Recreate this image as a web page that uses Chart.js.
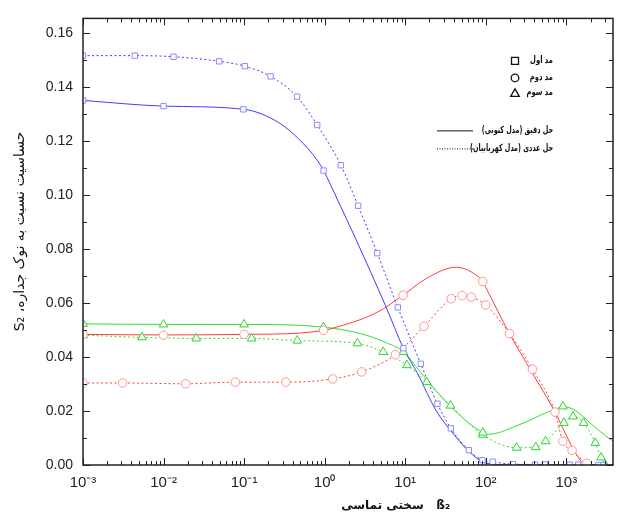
<!DOCTYPE html>
<html>
<head>
<meta charset="utf-8">
<script src="https://cdn.jsdelivr.net/npm/chart.js@4.4.1/dist/chart.umd.min.js"></script>
<style>
html, body { margin: 0; padding: 0; background: #fff; }
#wrap { position: relative; width: 619px; height: 515px; }
</style>
</head>
<body>
<div id="wrap"><canvas id="chart" dir="rtl" width="619" height="515"></canvas></div>
<script>
// mode 1 (blue)
const mode1Exact = [[0.001,0.1351],[0.01,0.1330],[0.1,0.1318],[0.265,0.1270],[0.47,0.1210],[0.82,0.1127],[0.97,0.1091],[1.45,0.0982],[2.5,0.0830],[5.7,0.0590],[9.5,0.0433],[14,0.0343],[24.5,0.0199],[40,0.0114],[63,0.0048],[100,0.0007],[200,0.0001],[3800,0]];
const mode1ExactMarks = [[0.001,0.1351],[0.01,0.1330],[0.098,0.1318],[0.97,0.1091],[9.5,0.0433],[410,0.0001],[1100,0.0001],[2900,0]];
const mode1Numer = [[0.001,0.1517],[0.0044,0.1517],[0.0133,0.1513],[0.049,0.1496],[0.102,0.1478],[0.213,0.1440],[0.454,0.1365],[0.807,0.1260],[1.59,0.1111],[2.6,0.0961],[4.5,0.0785],[8.1,0.0584],[15.6,0.0375],[25.1,0.0227],[36.9,0.0136],[61.7,0.0055],[91,0.0018],[122,0.0012],[218,0.0003],[540,0.0002],[1400,0.0001],[2500,0],[3800,0]];
const mode1NumerMarks = [[0.001,0.1517],[0.0044,0.1517],[0.0133,0.1513],[0.049,0.1496],[0.102,0.1478],[0.213,0.1440],[0.454,0.1365],[0.807,0.1260],[1.59,0.1111],[2.6,0.0961],[4.5,0.0785],[8.1,0.0584],[15.6,0.0375],[25.1,0.0227],[36.9,0.0136],[61.7,0.0055],[91,0.0018],[122,0.0012],[218,0.0003],[540,0.0002],[1400,0.0001],[2500,0]];

// mode 2 (red)
const mode2Exact = [[0.001,0.0484],[0.01,0.0482],[0.1,0.0484],[0.5,0.0489],[0.97,0.0499],[1.2,0.0505],[4.5,0.0566],[9.4,0.0629],[18.5,0.0692],[43,0.0733],[76,0.0704],[92,0.0680],[101,0.0656],[197,0.0487],[380,0.0340],[724,0.0196],[1000,0.0110],[1300,0.0045],[1750,0],[3800,0]];
const mode2ExactMarks = [[0.001,0.0484],[0.01,0.0481],[0.1,0.0484],[0.97,0.0499],[9.4,0.0629],[92,0.0680]];
const mode2Numer = [[0.001,0.0304],[0.0031,0.0304],[0.0188,0.0301],[0.078,0.0307],[0.33,0.0307],[1.26,0.0319],[2.88,0.0345],[7.55,0.0409],[17.1,0.0514],[37.3,0.0616],[51,0.0628],[66,0.0622],[99.6,0.0593],[197,0.0487],[380,0.0355],[724,0.0196],[906,0.0088],[1180,0.0054],[1800,0.0006],[2200,0]];
const mode2NumerMarks = [[0.001,0.0304],[0.0031,0.0304],[0.0188,0.0301],[0.078,0.0307],[0.33,0.0307],[1.26,0.0319],[2.88,0.0345],[7.55,0.0409],[17.1,0.0514],[37.3,0.0616],[51,0.0628],[66,0.0622],[99.6,0.0593],[197,0.0487],[380,0.0355],[724,0.0196],[906,0.0088],[1180,0.0054],[1800,0.0006]];

// mode 3 (green)
const mode3Exact = [[0.001,0.0523],[0.01,0.0521],[0.1,0.0521],[0.97,0.0511],[2.8,0.0487],[5.4,0.0457],[9.5,0.0419],[16.8,0.0331],[36.6,0.0217],[92,0.0120],[110,0.0114],[237,0.0144],[700,0.0205],[950,0.0216],[1300,0.0201],[2080,0.0150],[3490,0.0096],[3800,0.0090]];
const mode3ExactMarks = [[0.001,0.0523],[0.01,0.0521],[0.1,0.0521],[0.97,0.0511],[9.5,0.0419],[92,0.0120],[906,0.0217]];
const mode3Numer = [[0.001,0.0481],[0.0054,0.0473],[0.0255,0.0469],[0.124,0.0469],[0.457,0.0461],[2.55,0.0451],[5.33,0.0419],[10.5,0.0370],[18.5,0.0307],[36.6,0.0220],[92,0.0112],[242,0.0064],[417,0.0066],[554,0.0088],[933,0.0156],[1210,0.0180],[1640,0.0156],[2290,0.0082],[2700,0.0028],[3000,0.0003]];
const mode3NumerMarks = mode3Numer;

const modeNames = ['مد اول', 'مد دوم', 'مد سوم'];
const lineNames = ['حل دقیق (مدل کنونی)', 'حل عددی (مدل کهربابیان)'];
const xTitle = 'ß₂   سختی تماسی';
const yTitle = 'حساسیت نسبت به نوک جداره، S₂';

const BLUE = '#3c3cff', BLUE_M = '#8c8cff';
const RED = '#ff3c3c', RED_M = '#ff9494';
const GREEN = '#2ee02e', GREEN_M = '#30d230';

const toPts = a => a.map(p => ({ x: p[0], y: p[1] }));

function lineSet(data, color, dotted) {
    return {
        type: 'line', data: toPts(data), borderColor: color, borderWidth: 1,
        borderDash: dotted ? [2, 2.5] : [], pointRadius: 0, fill: false,
        cubicInterpolationMode: 'monotone', order: 2
    };
}

function markSet(data, color, style, r) {
    return {
        type: 'scatter', data: toPts(data), showLine: false,
        borderColor: color, backgroundColor: '#fff', pointStyle: style,
        pointRadius: r, pointBorderWidth: 1, pointHoverRadius: r, clip: 0, order: 1
    };
}

const sup = n => String(n).split('').map(c => ({ '-': '⁻', '0': '⁰', '1': '¹', '2': '²', '3': '³', '4': '⁴' })[c]).join('');
const isDecade = v => { const l = Math.log10(v); return Math.abs(l - Math.round(l)) < 1e-6; };

// narrow persian text (the original uses a compact font)
function squeezeText(ctx, text, x, y, sx) {
    ctx.save();
    ctx.translate(x, y);
    ctx.scale(sx, 1);
    ctx.fillText(text, 0, 0);
    ctx.restore();
}

// box, inward ticks, axis titles and key
const frame = {
    id: 'frame',
    afterDatasetsDraw(chart) {
        const { ctx, chartArea: a, scales: { x, y } } = chart;
        ctx.save();
        ctx.strokeStyle = '#222';
        ctx.lineWidth = 1;
        ctx.beginPath();
        x.ticks.forEach(t => {
            const px = Math.round(x.getPixelForValue(t.value)) + 0.5;
            if (px < a.left || px > a.right) return;
            const len = isDecade(t.value) ? 7 : 4;
            ctx.moveTo(px, a.bottom); ctx.lineTo(px, a.bottom - len);
            ctx.moveTo(px, a.top); ctx.lineTo(px, a.top + len);
        });
        y.ticks.forEach(t => {
            const py = Math.round(y.getPixelForValue(t.value)) + 0.5;
            const len = Math.round(t.value * 100) % 2 === 0 ? 7 : 4;
            ctx.moveTo(a.left, py); ctx.lineTo(a.left + len, py);
            ctx.moveTo(a.right, py); ctx.lineTo(a.right - len, py);
        });
        ctx.stroke();
        ctx.lineWidth = 1.5;
        ctx.strokeRect(a.left, a.top, a.right - a.left, a.bottom - a.top);

        // axis titles
        ctx.fillStyle = '#111';
        ctx.font = 'bold 12px "DejaVu Sans"';
        ctx.textAlign = 'center';
        ctx.textBaseline = 'middle';
        ctx.fillText(xTitle, a.left + (a.right - a.left) * 0.59, 506);
        ctx.save();
        ctx.translate(20, a.top + 213);
        ctx.rotate(-Math.PI / 2);
        ctx.font = '14px "DejaVu Sans"';
        ctx.fillText(yTitle, 0, 0);
        ctx.restore();

        // key
        const tx = a.right - 60, mx = a.right - 98;
        const rows = [a.top + 42, a.top + 59, a.top + 74];
        ctx.font = 'bold 10px "DejaVu Sans"';
        ctx.textAlign = 'right';
        ctx.strokeStyle = '#111';
        ctx.lineWidth = 1.3;
        modeNames.forEach((name, i) => squeezeText(ctx, name, tx, rows[i], 0.68));
        ctx.strokeRect(mx - 3.5, rows[0] - 3, 7, 7);
        ctx.beginPath(); ctx.arc(mx, rows[1] + 0.5, 3.8, 0, Math.PI * 2); ctx.stroke();
        ctx.beginPath();
        ctx.moveTo(mx, rows[2] - 3.5); ctx.lineTo(mx + 4.3, rows[2] + 4); ctx.lineTo(mx - 4.3, rows[2] + 4);
        ctx.closePath(); ctx.stroke();
        const ly = [a.top + 112, a.top + 130];
        lineNames.forEach((name, i) => squeezeText(ctx, name, tx, ly[i], 0.64));
        ctx.lineWidth = 1;
        ctx.beginPath(); ctx.moveTo(a.left + 354, ly[0] + 0.5); ctx.lineTo(a.left + 390, ly[0] + 0.5); ctx.stroke();
        ctx.setLineDash([1, 1.5]);
        ctx.beginPath(); ctx.moveTo(a.left + 354, ly[1] + 0.5); ctx.lineTo(a.left + 390, ly[1] + 0.5); ctx.stroke();
        ctx.restore();
    }
};

new Chart(document.getElementById('chart'), {
    data: {
        datasets: [
            lineSet(mode1Exact, BLUE, false),
            lineSet(mode1Numer, BLUE, true),
            lineSet(mode2Exact, RED, false),
            lineSet(mode2Numer, RED, true),
            lineSet(mode3Exact, GREEN, false),
            lineSet(mode3Numer, GREEN, true),
            markSet(mode1ExactMarks, BLUE_M, 'rect', 3.8),
            markSet(mode1NumerMarks, BLUE_M, 'rect', 3.8),
            markSet(mode2ExactMarks, RED_M, 'circle', 4.3),
            markSet(mode2NumerMarks, RED_M, 'circle', 4.3),
            markSet(mode3ExactMarks, GREEN_M, 'triangle', 5),
            markSet(mode3NumerMarks, GREEN_M, 'triangle', 5)
        ]
    },
    options: {
        responsive: false,
        animation: false,
        layout: { padding: { left: 0, right: 4, top: 8, bottom: 0 } },
        plugins: { legend: { display: false }, tooltip: { enabled: false } },
        scales: {
            x: {
                type: 'logarithmic', min: 0.001, max: 3800,
                afterBuildTicks: s => {
                    const t = [];
                    for (let e = -3; e <= 3; e++)
                        for (let m = 1; m <= 9; m++) {
                            const v = m * Math.pow(10, e);
                            if (v <= s.max) t.push({ value: v });
                        }
                    s.ticks = t;
                },
                afterFit: s => { s.height = 50; },
                grid: { display: false, drawTicks: false },
                border: { display: false },
                ticks: {
                    autoSkip: false, maxRotation: 0, padding: 9, color: '#222',
                    font: { family: 'Liberation Sans', size: 15 },
                    callback: v => isDecade(v) ? '10' + sup(Math.round(Math.log10(v))) : ''
                }
            },
            y: {
                min: 0, max: 0.1655,
                afterBuildTicks: s => {
                    const t = [];
                    for (let i = 0; i <= 16; i++) t.push({ value: i / 100 });
                    s.ticks = t;
                },
                afterFit: s => { s.width = 83; },
                grid: { display: false, drawTicks: false },
                border: { display: false },
                ticks: {
                    padding: 10, color: '#222',
                    font: { family: 'Liberation Sans', size: 14 },
                    callback: v => { const k = Math.round(v * 100); return k % 2 === 0 ? (k / 100).toFixed(2) : ''; }
                }
            }
        }
    },
    plugins: [frame]
});
</script>
</body>
</html>
